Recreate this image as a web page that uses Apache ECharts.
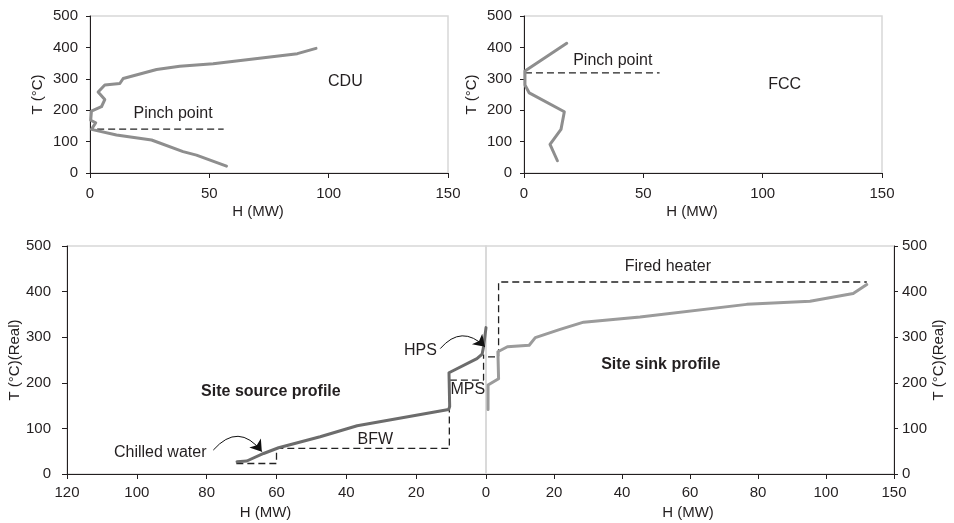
<!DOCTYPE html>
<html>
<head>
<meta charset="utf-8">
<script src="https://cdn.jsdelivr.net/npm/echarts@6/dist/echarts.min.js"></script>
<style>
  html, body { margin: 0; padding: 0; background: #fff; }
  #chart { width: 954px; height: 523px; }
</style>
</head>
<body>
<div id="chart"></div>
<script>
// CDU composite profile: enthalpy (MW) against temperature (°C)
const cduH = [94.7, 86.9, 51.6, 37.6, 27.9, 13.9, 12.5, 6.2, 3.4, 6.2, 4.8, 0.6, 0.3, 2.4, 0.6, 11.1, 25.8, 39.0, 44.6, 57.2];
const cduT = [397, 380, 348, 340, 329.5, 301, 285, 280, 258, 234, 211, 197, 168, 160, 139, 121, 105, 68, 57, 22];
const cduPinchH = [3, 56];
const cduPinchT = [140, 140];

// FCC composite profile
const fccH = [17.9, 0.4, 0.4, 2.2, 16.9, 15.5, 10.9, 14.0];
const fccT = [413, 325, 280, 255, 195, 139, 91, 39];
const fccPinchH = [0.4, 56.8];
const fccPinchT = [319, 319];

// Site source profile (enthalpy counted leftwards from 0)
const sourceH = [71.3, 68.5, 63.7, 59.4, 47.5, 36.9, 10.7, 10.4, 10.6, 2.6, 1.1, 0.7, 0];
const sourceT = [27, 28.5, 45, 57.6, 81.7, 105.8, 141.6, 148, 222, 253, 263, 279, 321];

// Utilities on the source side: chilled water, BFW, MPS
const sourceUtilH = [71.5, 60, 60, 10.5, 10.5, 0.7, 0.7];
const sourceUtilT = [23, 23, 56, 56, 206, 206, 262];

// Site sink profile (enthalpy counted rightwards from 0)
const sinkH = [0.6, 0.6, 3.7, 3.5, 6.3, 12.7, 14.5, 21.8, 28.7, 45.3, 76.7, 95.3, 108, 112];
const sinkT = [141.7, 195, 209, 268, 279, 282.5, 299, 317, 333, 344.5, 372, 379, 396, 415.5];

// Utilities on the sink side: HPS step and fired heater
const sinkUtilH = [0.6, 3.7, 3.7, 112];
const sinkUtilT = [257, 257, 421, 421];

// Tick labels
const topTempTicks = ['0', '100', '200', '300', '400', '500'];
const topHTicks = ['0', '50', '100', '150'];
const sourceHTicks = ['0', '20', '40', '60', '80', '100', '120'];
const sinkHTicks = ['0', '20', '40', '60', '80', '100', '150'];
const siteTempTicks = ['0', '100', '200', '300', '400', '500'];

// Annotation texts with their anchor (H, T)
const cduNotes = [['Pinch point', 34.8, 188], ['CDU', 107, 292]];
const fccNotes = [['Pinch point', 37.2, 357], ['FCC', 109.2, 280]];
const sourceNotes = [['Chilled water', 93.3, 46.6], ['BFW', 31.7, 76], ['HPS', 18.8, 271], ['MPS', 5.2, 185.5]];
const sinkNotes = [['Fired heater', 53.5, 454]];
const sourceTitle = [['Site source profile', 61.6, 180]];
const sinkTitle = [['Site sink profile', 51.4, 240]];

// Curved pointer arrows: [startH, startT, endH, endT]
const chilledArrow = [78.1, 52.5, 64.2, 49];
const hpsArrow = [13.1, 275, 0.3, 279];

const FONT = "'Liberation Sans', Arial, Helvetica, sans-serif";
const INK = '#231f20';

const pairs = (h, t) => h.map((v, i) => [v, t[i]]);
const fromList = list => v => {
  const i = list.indexOf(String(v));
  return i >= 0 ? list[i] : '';
};

function tickLabel(margin, formatter, extra) {
  return Object.assign({ color: INK, fontSize: 15, fontFamily: FONT, margin, formatter }, extra);
}

function xAxisCfg(gridIndex, extra) {
  return Object.assign({
    type: 'value', gridIndex,
    nameLocation: 'middle', nameGap: 31,
    nameTextStyle: { color: INK, fontSize: 15, fontFamily: FONT, padding: [0, 22, 0, 0] },
    axisLine: { show: true, onZero: false, lineStyle: { color: INK, width: 1 } },
    axisTick: { show: true, length: 5, lineStyle: { color: INK } },
    splitLine: { show: false }
  }, extra);
}

function yAxisCfg(gridIndex, extra) {
  return Object.assign({
    type: 'value', gridIndex, min: 0, max: 500, interval: 100,
    nameLocation: 'middle', nameGap: 45,
    nameTextStyle: { color: INK, fontSize: 15, fontFamily: FONT },
    axisLine: { show: true, onZero: false, lineStyle: { color: INK, width: 1 } },
    axisTick: { show: true, length: 4, lineStyle: { color: INK } },
    splitLine: { show: false }
  }, extra);
}

function profile(xi, data, color, width) {
  return {
    type: 'line', xAxisIndex: xi, yAxisIndex: xi, data,
    showSymbol: false, symbol: 'none', silent: true,
    lineStyle: { color, width, join: 'round', cap: 'round' }, z: 3
  };
}

function dashed(xi, data) {
  return {
    type: 'line', xAxisIndex: xi, yAxisIndex: xi, data,
    showSymbol: false, symbol: 'none', silent: true,
    lineStyle: { color: '#222', width: 1.3, type: [7, 4] }, z: 2
  };
}

function notes(xi, list, bold) {
  return {
    type: 'scatter', xAxisIndex: xi, yAxisIndex: xi, silent: true,
    symbolSize: 0,
    itemStyle: { opacity: 1 },
    data: list.map(n => ({ name: n[0], value: [n[1], n[2]] })),
    label: {
      show: true, position: 'inside', formatter: '{b}', opacity: 1,
      color: INK, fontSize: 16, fontFamily: FONT,
      fontWeight: bold ? 'bold' : 'normal'
    }, z: 5
  };
}

function arrow(xi, a, curveness) {
  return {
    type: 'lines', coordinateSystem: 'cartesian2d',
    xAxisIndex: xi, yAxisIndex: xi, silent: true,
    symbol: ['none', 'arrow'], symbolSize: 11,
    data: [{ coords: [[a[0], a[1]], [a[2], a[3]]] }],
    lineStyle: { color: '#111', width: 1, curveness, opacity: 1 },
    z: 6
  };
}

const gridBorder = { show: true, borderColor: '#d8d8d8', borderWidth: 1.5, backgroundColor: 'transparent' };

const option = {
  animation: false,
  backgroundColor: '#fff',
  grid: [
    Object.assign({ left: 90, top: 16, width: 358, height: 157 }, gridBorder),
    Object.assign({ left: 524, top: 16, width: 358, height: 157 }, gridBorder),
    Object.assign({ left: 67, top: 246, width: 419, height: 228 }, gridBorder),
    Object.assign({ left: 486, top: 246, width: 408, height: 228 }, gridBorder)
  ],
  xAxis: [
    xAxisCfg(0, { min: 0, max: 150, interval: 50, name: 'H (MW)',
      axisLabel: tickLabel(13, fromList(topHTicks)) }),
    xAxisCfg(1, { min: 0, max: 150, interval: 50, name: 'H (MW)',
      axisLabel: tickLabel(13, fromList(topHTicks)) }),
    xAxisCfg(2, { min: 0, max: 120, interval: 20, inverse: true, name: 'H (MW)',
      axisLabel: tickLabel(11, fromList(sourceHTicks), { showMinLabel: false }) }),
    xAxisCfg(3, { min: 0, max: 120, interval: 20, name: 'H (MW)',
      nameTextStyle: { color: INK, fontSize: 15, fontFamily: FONT, padding: [0, 4, 0, 0] },
      axisLabel: tickLabel(11, v => sinkHTicks[Math.round(v / 20)]) })
  ],
  yAxis: [
    yAxisCfg(0, { name: 'T (°C)', axisLabel: tickLabel(12, fromList(topTempTicks)) }),
    yAxisCfg(1, { name: 'T (°C)', axisLabel: tickLabel(12, fromList(topTempTicks)) }),
    yAxisCfg(2, { name: 'T (°C)(Real)', nameGap: 45,
      axisTick: { show: true, length: 5, lineStyle: { color: INK } },
      axisLabel: tickLabel(16, fromList(siteTempTicks)) }),
    yAxisCfg(3, { name: 'T (°C)(Real)', position: 'right', nameGap: 36,
      axisLabel: tickLabel(8, fromList(siteTempTicks)) })
  ],
  series: [
    // CDU
    profile(0, pairs(cduH, cduT), '#8e8e8e', 3),
    dashed(0, pairs(cduPinchH, cduPinchT)),
    notes(0, cduNotes, false),
    // FCC
    profile(1, pairs(fccH, fccT), '#8e8e8e', 3),
    dashed(1, pairs(fccPinchH, fccPinchT)),
    notes(1, fccNotes, false),
    // Site source side
    dashed(2, pairs(sourceUtilH, sourceUtilT)),
    profile(2, pairs(sourceH, sourceT), '#6c6c6c', 3),
    notes(2, sourceNotes, false),
    notes(2, sourceTitle, true),
    arrow(2, chilledArrow, 0.6),
    arrow(2, hpsArrow, 0.53),
    // Site sink side
    dashed(3, pairs(sinkUtilH, sinkUtilT)),
    profile(3, pairs(sinkH, sinkT), '#9b9b9b', 3),
    notes(3, sinkNotes, false),
    notes(3, sinkTitle, true)
  ]
};

const chart = echarts.init(document.getElementById('chart'), null, { renderer: 'canvas' });
chart.setOption(option);
</script>
</body>
</html>
